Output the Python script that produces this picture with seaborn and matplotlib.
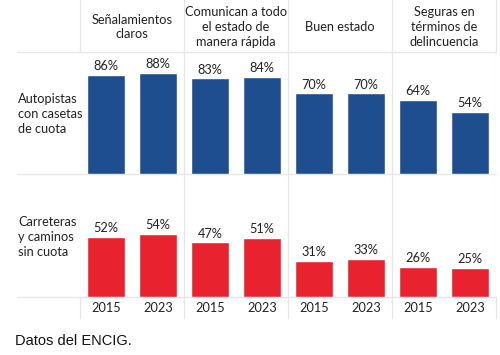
import matplotlib
matplotlib.use("Agg")
import matplotlib.pyplot as plt
import seaborn as sns
import pandas as pd

categories = ["Señalamientos\nclaros", "Comunican a todo\nel estado de\nmanera rápida",
              "Buen estado", "Seguras en\ntérminos de\ndelincuencia"]
years = ["2015", "2023"]
autopistas = [86, 88, 83, 84, 70, 70, 64, 54]
carreteras = [52, 54, 47, 51, 31, 33, 26, 25]
row_labels = ["Autopistas\ncon casetas\nde cuota", "Carreteras\ny caminos\nsin cuota"]
source = "Datos del ENCIG."

BLUE = "#1f4e8f"
RED = "#e8232f"
GRID = "#e6e6e6"
TXT = "#222222"
FS = 9.2

sns.set_theme(style="white")
plt.rcParams['font.family'] = ['Lato', 'DejaVu Sans']

W, H = 500, 355
fig = plt.figure(figsize=(W / 100, H / 100), dpi=100)

def ax_rect(x0, y0, x1, y1):
    return [x0 / W, 1 - y1 / H, (x1 - x0) / W, (y1 - y0) / H]

# overlay axis in pixel coordinates for text and lines
ov = fig.add_axes([0, 0, 1, 1])
ov.set_xlim(0, W)
ov.set_ylim(H, 0)
ov.axis("off")

slots = [f"{i}" for i in range(8)]
year_labels = [years[i % 2] for i in range(8)]

panels = [(autopistas, BLUE, 52, 174), (carreteras, RED, 174, 297)]
for vals, col, y0, y1 in panels:
    ax = fig.add_axes(ax_rect(80, y0, 496, y1))
    ax.patch.set_alpha(0)
    df = pd.DataFrame({"slot": slots, "val": vals})
    sns.barplot(data=df, x="slot", y="val", order=slots, color=col,
                width=0.73, saturation=1, ax=ax)
    ax.set_ylim(0, 106)
    ax.set_xlim(-0.5, 7.5)
    for i, v in enumerate(vals):
        ax.text(i, v + 2.5, f"{v}%", ha="center", va="bottom", fontsize=FS, color=TXT)
    ax.set_xlabel("")
    ax.set_ylabel("")
    ax.set_xticks([])
    ax.set_yticks([])
    for s in ax.spines.values():
        s.set_visible(False)
    for xb in [1.5, 3.5, 5.5, 7.5]:
        ax.axvline(xb, color=GRID, lw=0.9, zorder=0)

# horizontal lines
for yy in [52, 174, 297]:
    ov.plot([17, 496], [yy, yy], color=GRID, lw=0.9)
# vertical lines in header and year rows
for xx in [80, 184, 288, 392, 496]:
    ov.plot([xx, xx], [0, 52], color=GRID, lw=0.9)
    ov.plot([xx, xx], [297, 318], color=GRID, lw=0.9)

# header texts
for j, c in enumerate(categories):
    cx = 80 + 104 * j + 52
    ov.text(cx, 27, c, ha="center", va="center", fontsize=FS, color=TXT,
            linespacing=1.3)

# row labels
ov.text(18, 114, row_labels[0], ha="left", va="center", fontsize=FS, color=TXT, linespacing=1.3)
ov.text(18, 237, row_labels[1], ha="left", va="center", fontsize=FS, color=TXT, linespacing=1.3)

# year labels
for i, y in enumerate(year_labels):
    ov.text(80 + 26 + 52 * i, 308, y, ha="center", va="center", fontsize=FS, color=TXT)

# source
ov.text(15, 341, source, ha="left", va="center", fontsize=10.5, color="#111111",
        family=["Liberation Sans", "DejaVu Sans"])

fig.savefig("out.png", dpi=100)
